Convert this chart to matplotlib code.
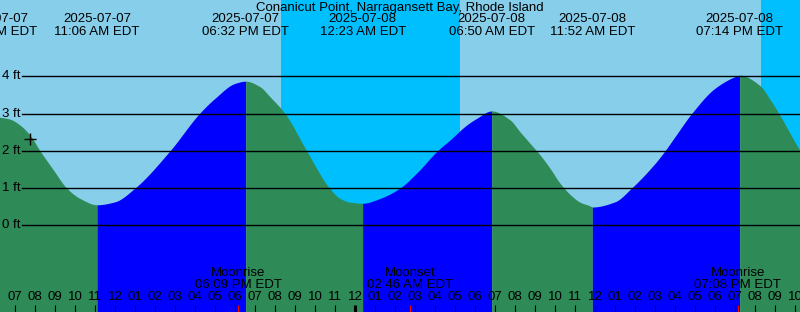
import numpy as np
import pandas as pd
import matplotlib
matplotlib.use("Agg")
import matplotlib.pyplot as plt

plt.rcParams['font.family'] = ['Liberation Sans', 'DejaVu Sans']

W, H = 800, 312
title = "Conanicut Point, Narragansett Bay, Rhode Island"
base = pd.Timestamp("2025-07-07 00:00")

# high / low tide events (first one is off the left edge)
event_dates = ["2025-07-07", "2025-07-07", "2025-07-07", "2025-07-08",
               "2025-07-08", "2025-07-08", "2025-07-08"]
event_times = ["05:57 AM", "11:06 AM", "06:32 PM", "12:23 AM",
               "06:50 AM", "11:52 AM", "07:14 PM"]
event_heights = [2.92, 0.55, 3.87, 0.59, 3.07, 0.49, 4.03]

# water level readings in between (hours since 2025-07-07 00:00, ft)
read_t = [6.25, 6.75, 7.25, 7.75, 8.25, 8.9, 9.58, 10.25,
          12.0, 13.0, 14.75, 16.22, 17.0, 18.0,
          19.25, 19.75, 20.5, 21.58, 22.72, 23.25, 23.75,
          25.25, 26.25, 27.08, 28.12, 28.75, 29.58, 30.08,
          31.75, 32.25, 32.75, 33.25, 33.75, 34.25, 34.75, 35.25, 35.75,
          37.0, 37.83, 39.0, 39.5, 40.0, 40.83, 42.0, 43.0,
          44.25, 44.75, 45.25, 45.75, 46.25, 47.0]
read_ft = [2.90, 2.85, 2.69, 2.42, 2.00, 1.50, 1.00, 0.72,
           0.63, 1.00, 2.00, 3.00, 3.41, 3.81,
           3.72, 3.45, 3.00, 2.00, 1.00, 0.72, 0.62,
           0.72, 1.00, 1.40, 2.00, 2.29, 2.69, 2.87,
           2.83, 2.51, 2.20, 1.89, 1.53, 1.13, 0.83, 0.62, 0.52,
           0.63, 1.00, 1.66, 2.00, 2.38, 3.00, 3.68, 3.99,
           3.75, 3.38, 2.95, 2.47, 2.00, 1.35]

# sun / moon
sun_events = [20.3, 29.25, 44.3]  # sunset, sunrise, sunset
moon_names = ["Moonrise", "Moonset", "Moonrise"]
moon_dates = ["2025-07-07", "2025-07-08", "2025-07-08"]
moon_times = ["06:09 PM", "02:46 AM", "07:08 PM"]

now_t, now_ft = 7.75, 2.33
levels = [0, 1, 2, 3, 4]
t_start, t_end = 6.25, 46.25
ft_low, ft_high = -2.33, 6.05

sky_day = "#87CEEB"
sky_night = "#00BFFF"
ebb = "#2E8B57"
flood = "#0000FF"
FS = 9.5


def to_hours(dates, times):
    dt = pd.to_datetime([d + " " + t for d, t in zip(dates, times)],
                        format="%Y-%m-%d %I:%M %p")
    return list((dt - base) / pd.Timedelta(hours=1))


def smooth(x, y, xs):
    # monotone cubic (pchip) so the drawn curve is not jagged
    h = np.diff(x)
    d = np.diff(y) / h
    m = np.zeros_like(y)
    for i in range(1, len(y) - 1):
        if d[i - 1] * d[i] > 0:
            w1 = 2 * h[i] + h[i - 1]
            w2 = h[i] + 2 * h[i - 1]
            m[i] = (w1 + w2) / (w1 / d[i - 1] + w2 / d[i])
    m[0], m[-1] = d[0], d[-1]
    k = np.clip(np.searchsorted(x, xs) - 1, 0, len(x) - 2)
    s = (xs - x[k]) / h[k]
    h00 = 2 * s**3 - 3 * s**2 + 1
    h10 = s**3 - 2 * s**2 + s
    h01 = -2 * s**3 + 3 * s**2
    h11 = s**3 - s**2
    return h00 * y[k] + h10 * h[k] * m[k] + h01 * y[k + 1] + h11 * h[k] * m[k + 1]


event_t = to_hours(event_dates, event_times)
moon_t = to_hours(moon_dates, moon_times)

t = np.array(read_t + event_t, dtype=float)
ft = np.array(read_ft + event_heights, dtype=float)
order = np.argsort(t)
t, ft = t[order], ft[order]

fig = plt.figure(figsize=(W / 100, H / 100), dpi=100)
ax = fig.add_axes([0, 0, 1, 1])
ax.set_xlim(t_start, t_end)
ax.set_ylim(ft_low, ft_high)
ax.axis("off")

# day / night background
ax.axvspan(t_start, t_end, color=sky_day, lw=0, zorder=0)
ax.axvspan(sun_events[0], sun_events[1], color=sky_night, lw=0, zorder=0)
ax.axvspan(sun_events[2], t_end + 1, color=sky_night, lw=0, zorder=0)

# water, green while falling, blue while rising
bounds = sorted(event_t) + [t[-1]]
for a, b in zip(bounds[:-1], bounds[1:]):
    xs = np.linspace(a, b, 300)
    ys = smooth(t, ft, xs)
    rising = ys[-1] > ys[0]
    ax.fill_between(xs, ys, ft_low - 1, color=flood if rising else ebb,
                    lw=0, zorder=1)

# level lines
xtr = ax.get_yaxis_transform()
for lv in levels:
    ax.axhline(lv, xmin=22 / W, xmax=1, color="black", lw=1.0, zorder=3)
    ax.text(2 / W, lv, "%d ft" % lv, transform=xtr, ha="left",
            va="center", fontsize=FS, zorder=4)

ax.plot(now_t, now_ft, marker="+", color="black", ms=9, mew=1.0, zorder=4)

# text along the top
ttr = ax.get_xaxis_transform()
ax.text(0.5, 1 - 7.5 / H, title, transform=ax.transAxes, ha="center",
        va="center", fontsize=FS)
for et, d, tm in zip(event_t, event_dates, event_times):
    ax.text(et, 1 - 19.5 / H, d, transform=ttr, ha="center", va="center",
            fontsize=FS)
    ax.text(et, 1 - 32 / H, tm + " EDT", transform=ttr, ha="center",
            va="center", fontsize=FS)

# hour ticks along the bottom
for h in range(7, 47):
    lab = "%02d" % ((h % 12) or 12)
    ax.text(h, 1 - 297.5 / H, lab, transform=ttr, ha="center", va="center",
            fontsize=FS)
    lw = 2.2 if h % 24 == 0 else 0.8
    ax.vlines(h, 0, 7.5 / H, transform=ttr, color="black", lw=lw, zorder=4)

for mt, name, tm in zip(moon_t, moon_names, moon_times):
    ax.vlines(mt, 0, 7.5 / H, transform=ttr, color="red", lw=0.8, zorder=5)
    ax.text(mt, 1 - 273.5 / H, name, transform=ttr, ha="center",
            va="center", fontsize=FS)
    ax.text(mt, 1 - 285.5 / H, tm + " EDT", transform=ttr, ha="center",
            va="center", fontsize=FS)

fig.savefig("out.png", dpi=100)
